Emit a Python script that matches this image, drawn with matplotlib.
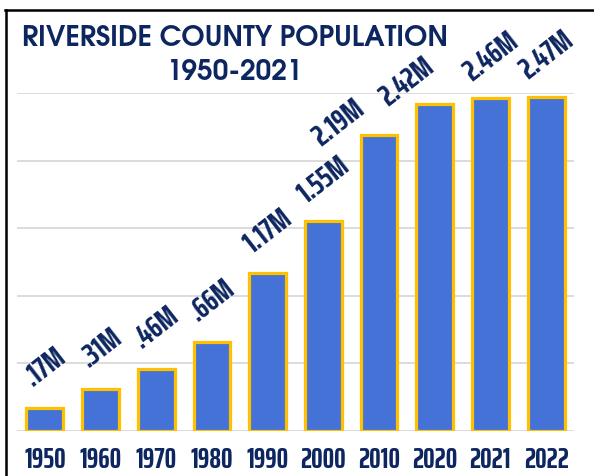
import matplotlib.pyplot as plt
from matplotlib.lines import Line2D

# Riverside County population, millions
years = ["1950", "1960", "1970", "1980", "1990", "2000", "2010", "2020", "2021", "2022"]
population = [0.17, 0.31, 0.46, 0.66, 1.17, 1.55, 2.19, 2.42, 2.46, 2.47]
value_labels = [".17M", ".31M", ".46M", ".66M", "1.17M", "1.55M", "2.19M", "2.42M", "2.46M", "2.47M"]

navy = "#0D2660"
narrow = ["Saira ExtraCondensed", "DejaVu Sans"]
gothic = ["TeX Gyre Adventor", "DejaVu Sans"]

fig = plt.figure(figsize=(5.94, 4.76), dpi=100)
ax = fig.add_axes([0.0286, 0.0945, 0.9377, 0.7101])

x = range(len(years))
ax.bar(x, population, width=0.66, color="#4472D6", edgecolor="#FFC000", linewidth=2.3, zorder=3)

# labels near the title get pushed left/down like in the original
nudge = {"2.19M": (-29, 9), "2.42M": (-20, 16)}
for i, (v, lab) in enumerate(zip(population, value_labels)):
    ax.annotate(lab, (i, v), xytext=nudge.get(lab, (0, 30)), textcoords="offset points",
                ha="center", va="center", rotation=38, fontsize=22,
                fontweight="bold", family=narrow, color=navy)

ax.set_xlim(-0.5, 9.5)
ax.set_ylim(0, 2.5)
ax.set_yticks([0, 0.5, 1.0, 1.5, 2.0, 2.5])
ax.set_yticklabels([])
ax.tick_params(axis="y", length=0)
ax.tick_params(axis="x", length=0, pad=11)
ax.set_xticks(list(x))
ax.set_xticklabels(years, fontsize=21, fontweight="bold", family=narrow, color=navy)
ax.grid(axis="y", color="#D9D9D9", linewidth=1.3, zorder=0)
for s in ax.spines.values():
    s.set_visible(False)

fig.text(0.396, 0.92, "RIVERSIDE COUNTY POPULATION", ha="center", va="center",
         fontsize=20, fontweight="bold", family=gothic, color=navy)
fig.text(0.396, 0.849, "1950-2021", ha="center", va="center",
         fontsize=20, fontweight="bold", family=gothic, color=navy)

# frame lines on top and left
fig.add_artist(Line2D([0.009, 1.0], [0.979, 0.979], color="black", linewidth=1.8))
fig.add_artist(Line2D([0.010, 0.010], [0.0, 0.979], color="black", linewidth=1.8))

fig.savefig("out.png", dpi=100)
